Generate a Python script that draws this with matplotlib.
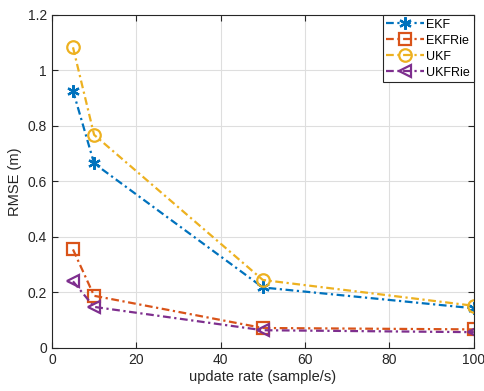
import numpy as np
import matplotlib.pyplot as plt

plt.rcParams['font.family'] = ['Liberation Sans', 'DejaVu Sans']

rate = [5, 10, 50, 100]
ekf = [0.927, 0.665, 0.218, 0.143]
ekfrie = [0.355, 0.188, 0.072, 0.067]
ukf = [1.083, 0.768, 0.245, 0.152]
ukfrie = [0.240, 0.148, 0.064, 0.057]

fig = plt.figure(figsize=(4.85, 3.91), dpi=100)
ax = fig.add_axes([0.107, 0.11, 0.87, 0.852])

common = dict(linestyle='-.', dashes=(3.5, 1.6, 1, 1.6), linewidth=1.6, markersize=9,
              markerfacecolor='none', markeredgewidth=1.6)
ax.plot(rate, ekf, color='#0072BD', marker=(6, 2, 0), label='EKF', **common)
ax.plot(rate, ekfrie, color='#D95319', marker='s', label='EKFRie', **common)
ax.plot(rate, ukf, color='#EDB120', marker='o', label='UKF', **common)
ax.plot(rate, ukfrie, color='#7E2F8E', marker='<', label='UKFRie', **common)

ax.set_xlim(0, 100)
ax.set_ylim(0, 1.2)
ax.set_xticks(np.arange(0, 101, 20))
ax.set_yticks(np.arange(0, 1.21, 0.2))
ax.set_yticklabels(['0', '0.2', '0.4', '0.6', '0.8', '1', '1.2'])
ax.grid(True, color='#dedede', linewidth=0.8)
ax.set_axisbelow(True)
ax.tick_params(direction='in', top=True, right=True, labelsize=10, colors='#262626', length=4)
for s in ax.spines.values():
    s.set_color('#262626')
ax.set_xlabel('update rate (sample/s)', fontsize=10.5, color='#262626', labelpad=2)
ax.set_ylabel('RMSE (m)', fontsize=10.5, color='#262626', labelpad=4)

leg = ax.legend(loc='upper right', fontsize=9, fancybox=False, edgecolor='#262626',
                handlelength=3.0, borderpad=0.3, labelspacing=0.32, handletextpad=0.2,
                borderaxespad=0.0, framealpha=1)
leg.get_frame().set_linewidth(0.8)

fig.savefig('out.png', dpi=100)
